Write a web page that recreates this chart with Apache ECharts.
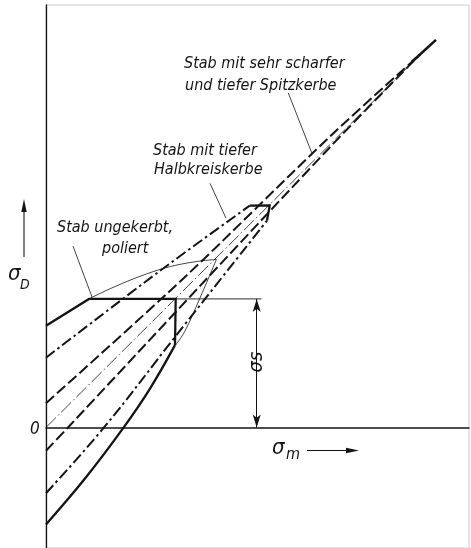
<!DOCTYPE html>
<html><head><meta charset="utf-8">
<script src="https://cdn.jsdelivr.net/npm/echarts@6/dist/echarts.min.js"></script>
<style>html,body{margin:0;padding:0;background:#fff}#c{width:471px;height:548px}</style>
</head><body><div id="c"></div>
<script>
// ---- data (schematic Smith diagram, units ~ sigma) ----
const unnotchedUpper = [[0,102],[43,129],[129.7,129],[129,82.6]];
const unnotchedLower = [[0,-97.3],[40,-50],[77.7,0],[104,39],[129,82.6]];
const unnotchedThinUpper = [[43,129],[114,158.6],[170.4,168.6]];
const unnotchedThinLower = [[170.4,168.6],[153.7,129.3],[138.7,96.3],[129.7,82.8]];
const halbUpper = [[0,70],[113.7,157],[203.7,222.6]];
const halbYield = [[203.7,222.6],[223.7,222.8],[221,207.6]];
const halbLower = [[0,-66],[58,0],[130.4,92.6],[221,207.6]];
const spitzUpper = [[0,24.3],[140,152],[284,292],[374,374.3]];
const spitzLower = [[0,-23.4],[22,0],[283.7,281],[374,374.3]];
const centerLine = [[0,0],[374,374]];
const spitzTip = [[366,367],[390,389]];
const sigmaSLine = [[129.7,129],[215.4,129]];
const sigmaSDim = [[210.7,0],[210.7,129]];
const leaderUnnotched = [[27,182],[46,131]];
const leaderHalb = [[164,245],[180,210]];
const leaderSpitz = [[242.3,335.7],[266,275]];
const labelUnnotched = ['Stab ungekerbt,', 'poliert'];
const labelHalb = ['Stab mit tiefer', 'Halbkreiskerbe'];
const labelSpitz = ['Stab mit sehr scharfer', 'und tiefer Spitzkerbe'];

const INK = '#141414';
const FONT = "'Liberation Sans Narrow','DejaVu Sans Condensed','DejaVu Sans',sans-serif";

function ln(data, width, type, smooth) {
  return {
    type: 'line', data: data, showSymbol: false, symbol: 'none', smooth: smooth || false,
    silent: true, animation: false,
    lineStyle: { color: INK, width: width, type: type || 'solid', cap: 'butt', join: 'miter' }
  };
}
const DASH = [11, 4];
const DASHDOT = [11, 3.5, 2.5, 3.5];
const THINDD = [14, 3, 1.5, 3];

const chart = echarts.init(document.getElementById('c'), null, { renderer: 'canvas' });
const option = {
  backgroundColor: '#fff',
  animation: false,
  grid: { left: 46, right: 2, top: 5, bottom: -2, show: true, borderColor: '#c8c8c8', borderWidth: 1 },
  xAxis: { type: 'value', min: 0, max: 423,
    axisLine: { show: true, onZero: true, lineStyle: { color: INK, width: 1.5 } },
    axisTick: { show: false }, axisLabel: { show: false }, splitLine: { show: false } },
  yAxis: { type: 'value', min: -121, max: 424,
    axisLine: { show: true, lineStyle: { color: INK, width: 1.3 } },
    axisTick: { show: false }, axisLabel: { show: false }, splitLine: { show: false } },
  series: [
    ln(centerLine, 0.8, THINDD),
    ln(unnotchedThinUpper, 0.8, 'solid', 0.5),
    ln(unnotchedThinLower, 0.8, 'solid', 0.4),
    ln(sigmaSLine, 0.9),
    ln(unnotchedUpper, 2.3),
    ln(unnotchedLower, 2.3, 'solid', 0.4),
    ln(halbUpper, 2, DASHDOT, 0.3),
    ln(halbLower, 2, DASHDOT, 0.4),
    ln(halbYield, 2.3),
    ln(spitzUpper, 2, DASH, 0.3),
    ln(spitzLower, 2, DASH, 0.3),
    ln(spitzTip, 2.6),
    ln(leaderUnnotched, 0.8),
    ln(leaderHalb, 0.8),
    ln(leaderSpitz, 0.8),
    { type: 'line', data: [], silent: true,
      markLine: { silent: true, animation: false, symbol: ['arrow', 'arrow'], symbolSize: [6, 13],
        label: { show: false }, lineStyle: { color: INK, width: 1, type: 'solid' },
        data: [[{ coord: sigmaSDim[0] }, { coord: sigmaSDim[1] }]] } }
  ],
  graphic: [
    // specimen labels
    { type: 'text', left: 57, top: 220, style: { text: labelUnnotched[0], font: 'italic 16px ' + FONT, fill: INK } },
    { type: 'text', left: 102, top: 241, style: { text: labelUnnotched[1], font: 'italic 16px ' + FONT, fill: INK } },
    { type: 'text', left: 153, top: 143, style: { text: labelHalb[0], font: 'italic 16px ' + FONT, fill: INK } },
    { type: 'text', left: 154, top: 162, style: { text: labelHalb[1], font: 'italic 16px ' + FONT, fill: INK } },
    { type: 'text', left: 184, top: 56, style: { text: labelSpitz[0], font: 'italic 16px ' + FONT, fill: INK } },
    { type: 'text', left: 185, top: 78, style: { text: labelSpitz[1], font: 'italic 16px ' + FONT, fill: INK } },
    // axis symbols
    { type: 'text', x: 8, y: 285, style: { text: 'σ', font: 'italic 22px ' + FONT, fill: INK, textVerticalAlign: 'bottom' } },
    { type: 'text', x: 20, y: 292, style: { text: 'D', font: 'italic 14px ' + FONT, fill: INK, textVerticalAlign: 'bottom' } },
    { type: 'text', x: 272, y: 459, style: { text: 'σ', font: 'italic 22px ' + FONT, fill: INK, textVerticalAlign: 'bottom' } },
    { type: 'text', x: 286, y: 463, style: { text: 'm', font: 'italic 16px ' + FONT, fill: INK, textVerticalAlign: 'bottom' } },
    { type: 'text', x: 30, y: 438, style: { text: '0', font: 'italic 17px ' + FONT, fill: INK, textVerticalAlign: 'bottom' } },
    { type: 'text', x: 257, y: 362, rotation: Math.PI / 2,
      style: { text: 'σs', font: 'italic 20px ' + FONT, fill: INK, align: 'center', verticalAlign: 'middle',
        backgroundColor: '#fff', padding: [0, 2] } },
    // arrows
    { type: 'line', shape: { x1: 24, y1: 257, x2: 24, y2: 206 }, style: { stroke: INK, lineWidth: 1.1 } },
    { type: 'polygon', shape: { points: [[24, 199], [21.3, 212], [26.7, 212]] }, style: { fill: INK } },
    { type: 'line', shape: { x1: 307, y1: 450.5, x2: 352, y2: 450.5 }, style: { stroke: INK, lineWidth: 1.1 } },
    { type: 'polygon', shape: { points: [[359, 450.5], [346, 447.8], [346, 453.2]] }, style: { fill: INK } }
  ]
};
chart.setOption(option);
</script></body></html>
